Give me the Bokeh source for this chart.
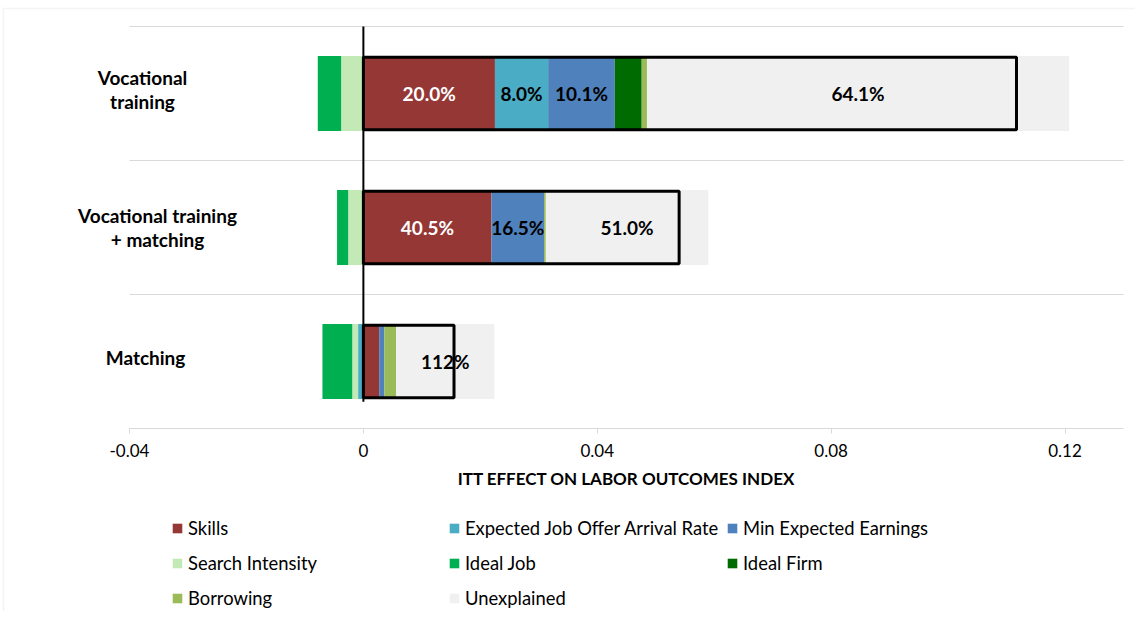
from bokeh.plotting import figure
from bokeh.models import (ColumnDataSource, Legend, LegendItem, Label, FixedTicker, Range1d,
                          BoxAnnotation)
from bokeh.core.properties import value
from bokeh.embed import file_html
from bokeh.resources import INLINE

# ---------------- data ----------------
category_labels = ["Vocational\ntraining", "Vocational training\n+ matching", "Matching"]
series_names = ["Skills", "Expected Job Offer Arrival Rate", "Min Expected Earnings",
                "Search Intensity", "Ideal Job", "Ideal Firm", "Borrowing", "Unexplained"]
skills = [0.0225, 0.0219, 0.0027]
job_offer_rate = [0.0091, 0.0, -0.0009]
min_expected_earnings = [0.0114, 0.0090, 0.0009]
search_intensity = [-0.0038, -0.0026, -0.0010]
ideal_job = [-0.0040, -0.0019, -0.0051]
ideal_firm = [0.0046, 0.0, 0.0]
borrowing = [0.0009, 0.0003, 0.0020]
unexplained = [0.0722, 0.0278, 0.0168]
itt_total = [0.1117, 0.0540, 0.0155]
skills_labels = ["20.0%", "40.5%", ""]
job_offer_labels = ["8.0%", "", ""]
min_earnings_labels = ["10.1%", "16.5%", ""]
unexplained_labels = ["64.1%", "51.0%", "112%"]
x_ticks = [-0.04, 0, 0.04, 0.08, 0.12]
x_tick_labels = ["-0.04", "0", "0.04", "0.08", "0.12"]
x_axis_min, x_axis_max = -0.04, 0.13
axis_title = "ITT EFFECT ON LABOR OUTCOMES INDEX"

# ---------------- styles ----------------
colors = {"Skills": "#953735", "Expected Job Offer Arrival Rate": "#4BACC6",
          "Min Expected Earnings": "#4F81BD", "Search Intensity": "#C3EAB6",
          "Ideal Job": "#00B050", "Ideal Firm": "#006B00", "Borrowing": "#9BBB59",
          "Unexplained": "#F0F0F0"}
label_colors = {"Skills": "white"}
FONT = "Lato"
GRID = "#D9D9D9"

series_values = [skills, job_offer_rate, min_expected_earnings, search_intensity,
                 ideal_job, ideal_firm, borrowing, unexplained]
series_labels = {"Skills": skills_labels, "Expected Job Offer Arrival Rate": job_offer_labels,
                 "Min Expected Earnings": min_earnings_labels, "Unexplained": unexplained_labels}

n = len(category_labels)
ys = [n - 0.5 - i for i in range(n)]

# layout (pixels on the canvas)
W, H = 1135, 611
AX_LEFT_PX, AX_RIGHT_PX, PLOT_TOP_PX = 129, 1123, 26
ROW_PX = 134.0
px_per_unit = (AX_RIGHT_PX - AX_LEFT_PX) / (x_axis_max - x_axis_min)
x_start = x_axis_min - AX_LEFT_PX / px_per_unit
x_end = x_axis_max + (W - AX_RIGHT_PX) / px_per_unit
y_end = n + PLOT_TOP_PX / ROW_PX
y_start = n - (H - PLOT_TOP_PX) / ROW_PX

def px_to_x(px):
    return x_start + px / px_per_unit

def px_to_y(py):
    return y_end - py / ROW_PX

p = figure(width=W, height=H, output_backend="svg", toolbar_location=None,
           x_range=Range1d(x_start, x_end), y_range=Range1d(y_start, y_end),
           min_border=0, min_border_left=0, min_border_right=0,
           min_border_top=0, min_border_bottom=0)
p.outline_line_color = None
p.background_fill_color = "white"
p.border_fill_color = "white"

# outer chart border (light grey)
p.add_layout(BoxAnnotation(left=px_to_x(3), right=px_to_x(W + 20), top=px_to_y(8),
                           bottom=px_to_y(H + 20), fill_alpha=0, line_color=GRID,
                           line_width=1.5))

# horizontal separators between categories (limited to the axis span)
grid_y = list(range(1, n + 1))
p.segment(x0=[x_axis_min] * len(grid_y), x1=[x_axis_max] * len(grid_y), y0=grid_y, y1=grid_y,
          line_color=GRID, line_width=1)

BAR_H = 0.56
pos = [0.0] * n
neg = [0.0] * n
renderers = {}
lab_x, lab_y, lab_t, lab_c = [], [], [], []
for name, vals in zip(series_names, series_values):
    left, right = [], []
    for i, v in enumerate(vals):
        if v >= 0:
            left.append(pos[i]); right.append(pos[i] + v); pos[i] += v
        else:
            right.append(neg[i]); left.append(neg[i] + v); neg[i] += v
    src = ColumnDataSource(dict(y=ys, left=left, right=right))
    renderers[name] = p.hbar(y="y", left="left", right="right", height=BAR_H,
                             fill_color=colors[name], line_color=None, source=src)
    if name in series_labels:
        for i, t in enumerate(series_labels[name]):
            if t:
                lab_x.append((left[i] + right[i]) / 2)
                lab_y.append(ys[i])
                lab_t.append(t)
                lab_c.append(label_colors.get(name, "black"))

# zero line
p.segment(x0=[0], y0=[0.2], x1=[0], y1=[n], line_color="black", line_width=2)

# total ITT boxes
box_src = ColumnDataSource(dict(y=ys, right=itt_total))
p.hbar(y="y", left=0, right="right", height=0.54, fill_color=None,
       line_color="black", line_width=3, source=box_src)

# segment labels
p.text(x="x", y="y", text="t", text_color="c",
       source=ColumnDataSource(dict(x=lab_x, y=lab_y, t=lab_t, c=lab_c)),
       text_align="center", text_baseline="middle", text_font=value(FONT),
       text_font_style="bold", text_font_size="19px")

# axes / grid
p.yaxis.visible = False
p.xgrid.visible = False
p.ygrid.visible = False

ax = p.xaxis[0]
ax.fixed_location = 0
ax.bounds = (x_axis_min, x_axis_max)
ax.ticker = FixedTicker(ticks=x_ticks)
ax.major_label_overrides = {t: l for t, l in zip(x_ticks, x_tick_labels)}
ax.minor_tick_line_color = None
ax.major_tick_in = 0
ax.major_tick_out = 5
ax.axis_line_color = GRID
ax.major_tick_line_color = GRID
ax.major_label_standoff = 10
ax.major_label_text_font = FONT
ax.major_label_text_font_size = "17px"
ax.major_label_text_color = "black"
ax.axis_label = axis_title
ax.axis_label_text_font = FONT
ax.axis_label_text_font_size = "17px"
ax.axis_label_text_font_style = "bold"
ax.axis_label_text_color = "black"
ax.axis_label_standoff = 8

# category labels (screen x on the canvas)
cat_x = [142, 157, 145]
cat_dy = [4, 0, 4]
for i, t in enumerate(category_labels):
    p.add_layout(Label(x=cat_x[i], x_units="screen", y=ys[i], y_units="data", y_offset=cat_dy[i],
                       text=t, text_align="center", text_baseline="middle",
                       text_font=FONT, text_font_style="bold", text_font_size="19px",
                       text_line_height=1.05, text_color="black"))

# legends: three columns
legend_cols = [["Skills", "Search Intensity", "Borrowing"],
               ["Expected Job Offer Arrival Rate", "Ideal Job", "Unexplained"],
               ["Min Expected Earnings", "Ideal Firm"]]
col_x = [171, 448, 726]
SP = 13
ITEM = 22
LEG_TOP = 517
for names, vx in zip(legend_cols, col_x):
    h = len(names) * ITEM + (len(names) - 1) * SP
    vy = H - LEG_TOP - h
    leg = Legend(items=[LegendItem(label=nm, renderers=[renderers[nm]]) for nm in names],
                 location=(vx, vy), orientation="vertical", padding=0, margin=0,
                 spacing=SP, glyph_width=12, glyph_height=12, label_height=ITEM,
                 label_standoff=5, border_line_color=None, background_fill_alpha=0,
                 label_text_font=FONT, label_text_font_size="18.4px", label_text_color="black")
    p.add_layout(leg)

open("out.html", "w").write(file_html(p, INLINE))
